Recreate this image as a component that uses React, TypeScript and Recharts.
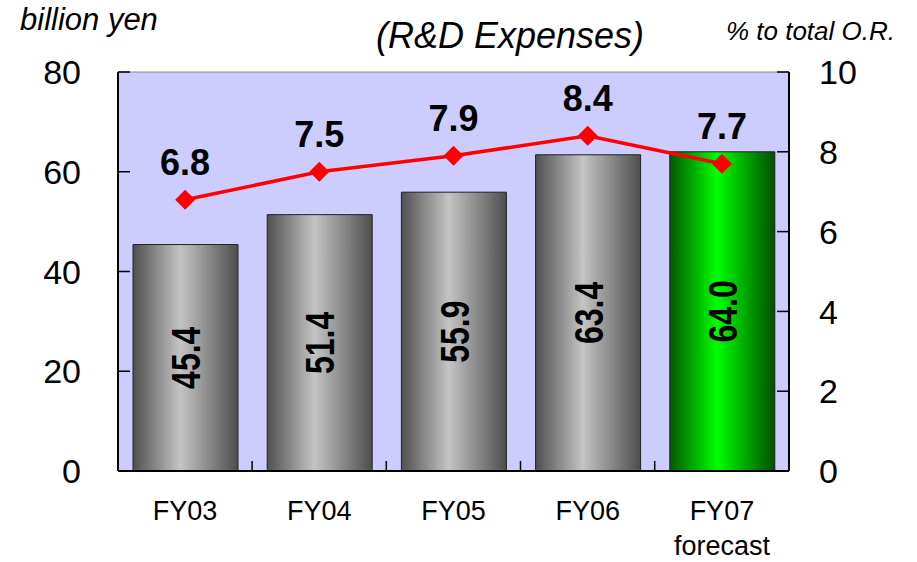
import React from 'react';
import {
  ComposedChart,
  Bar,
  Line,
  XAxis,
  YAxis,
  CartesianGrid,
  ReferenceLine,
  LabelList,
  Cell,
} from 'recharts';

const categories = ['FY03', 'FY04', 'FY05', 'FY06', 'FY07'];
const subLabels = ['', '', '', '', 'forecast'];
const expenses = [45.4, 51.4, 55.9, 63.4, 64.0];
const ratios = [6.8, 7.5, 7.9, 8.4, 7.7];
const leftTicks = [0, 20, 40, 60, 80];
const rightTicks = [0, 2, 4, 6, 8, 10];

const data = categories.map((name, i) => ({
  name,
  sub: subLabels[i],
  expense: expenses[i],
  ratio: ratios[i],
}));

const FONT = '"Liberation Sans", Arial, sans-serif';

const LeftTick = ({ x, y, payload }: any) => (
  <g>
    <line x1={x + 37} x2={x + 49} y1={y} y2={y} stroke="#000" strokeWidth={1.5} />
    <text x={x} y={y} dy="0.36em" textAnchor="end" fontSize={34} fontFamily={FONT} fill="#000">
      {payload.value}
    </text>
  </g>
);

const RightTick = ({ x, y, payload }: any) => (
  <g>
    <line x1={x - 30} x2={x - 42} y1={y} y2={y} stroke="#000" strokeWidth={1.5} />
    <text x={x} y={y} dy="0.36em" textAnchor="start" fontSize={34} fontFamily={FONT} fill="#000">
      {payload.value}
    </text>
  </g>
);

const CategoryTick = ({ x, y, payload, index }: any) => {
  const row = data[index];
  return (
    <g>
      {index < categories.length - 1 && (
        <line x1={x + 67} x2={x + 67} y1={y} y2={y - 10} stroke="#000" strokeWidth={1.5} />
      )}
      <text x={x} y={y + 49} textAnchor="middle" fontSize={27} fontFamily={FONT} fill="#000">
        {payload.value}
      </text>
      {row && row.sub && (
        <text x={x} y={y + 84} textAnchor="middle" fontSize={27} fontFamily={FONT} fill="#000">
          {row.sub}
        </text>
      )}
    </g>
  );
};

const Diamond = ({ cx, cy }: any) => (
  <polygon
    points={`${cx},${cy - 10} ${cx + 10},${cy} ${cx},${cy + 10} ${cx - 10},${cy}`}
    fill="#ff0000"
  />
);

const BarValue = ({ x, y, width, height, value }: any) => {
  const cx = x + width / 2;
  const cy = y + height / 2;
  return (
    <text
      transform={`translate(${cx},${cy}) rotate(-90) scale(0.78,1)`}
      textAnchor="middle"
      dy="0.36em"
      fontSize={41}
      fontWeight="bold"
      fontFamily={FONT}
      fill="#000"
    >
      {Number(value).toFixed(1)}
    </text>
  );
};

const RatioValue = ({ x, y, value }: any) => (
  <text x={x} y={y - 25} textAnchor="middle" fontSize={36} fontWeight="bold" fontFamily={FONT} fill="#000">
    {Number(value).toFixed(1)}
  </text>
);

export default function App() {
  return (
    <div style={{ position: 'absolute', left: 0, top: 0, width: 917, height: 562, background: '#fff' }}>
      <ComposedChart
        width={917}
        height={562}
        data={data}
        margin={{ top: 72, right: 0, bottom: 0, left: 0 }}
      >
        <defs>
          <linearGradient id="grayBar" x1="0" y1="0" x2="1" y2="0">
            <stop offset="0%" stopColor="#505050" />
            <stop offset="45%" stopColor="#c4c4c4" />
            <stop offset="100%" stopColor="#4e4e4e" />
          </linearGradient>
          <linearGradient id="greenBar" x1="0" y1="0" x2="1" y2="0">
            <stop offset="0%" stopColor="#005a00" />
            <stop offset="45%" stopColor="#00ff00" />
            <stop offset="100%" stopColor="#004e00" />
          </linearGradient>
        </defs>
        <CartesianGrid fill="#ccccff" fillOpacity={1} horizontal={false} vertical={false} />
        <XAxis
          dataKey="name"
          height={91}
          tickSize={0}
          tickMargin={0}
          tick={<CategoryTick />}
          axisLine={{ stroke: '#000', strokeWidth: 2 }}
          tickLine={false}
          interval={0}
        />
        <YAxis
          yAxisId="left"
          orientation="left"
          width={118}
          domain={[0, 80]}
          ticks={leftTicks}
          tickSize={0}
          tickMargin={37}
          tick={<LeftTick />}
          tickLine={false}
          axisLine={{ stroke: '#000', strokeWidth: 2 }}
        />
        <YAxis
          yAxisId="right"
          orientation="right"
          width={128}
          domain={[0, 10]}
          ticks={rightTicks}
          tickSize={0}
          tickMargin={30}
          tick={<RightTick />}
          tickLine={false}
          axisLine={{ stroke: '#000', strokeWidth: 2 }}
        />
        <ReferenceLine yAxisId="left" y={80} stroke="#8a8a8a" strokeWidth={1} />
        <Bar
          yAxisId="left"
          dataKey="expense"
          barSize={105}
          stroke="#222"
          strokeWidth={1}
          isAnimationActive={false}
        >
          {data.map((d, i) => (
            <Cell key={d.name} fill={i === data.length - 1 ? 'url(#greenBar)' : 'url(#grayBar)'} />
          ))}
          <LabelList dataKey="expense" content={<BarValue />} />
        </Bar>
        <Line
          yAxisId="right"
          dataKey="ratio"
          stroke="#ff0000"
          strokeWidth={3.5}
          dot={<Diamond />}
          activeDot={false}
          isAnimationActive={false}
        >
          <LabelList dataKey="ratio" content={<RatioValue />} />
        </Line>
      </ComposedChart>
      <svg
        width={917}
        height={70}
        style={{ position: 'absolute', left: 0, top: 0, pointerEvents: 'none' }}
      >
        <text x={20} y={30} fontSize={31} fontStyle="italic" fontFamily={FONT} fill="#000">
          billion yen
        </text>
        <text x={510} y={48} textAnchor="middle" fontSize={36} fontStyle="italic" fontFamily={FONT} fill="#000">
          (R&amp;D Expenses)
        </text>
        <text x={895} y={40} textAnchor="end" fontSize={26} fontStyle="italic" fontFamily={FONT} fill="#000">
          % to total O.R.
        </text>
      </svg>
    </div>
  );
}
